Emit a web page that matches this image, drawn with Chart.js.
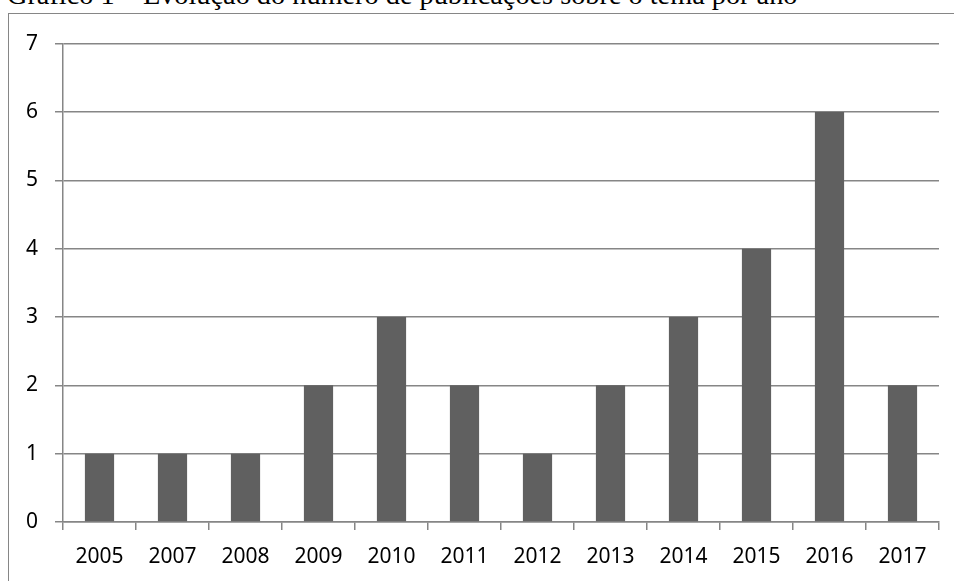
<!DOCTYPE html>
<html>
<head>
<meta charset="utf-8">
<script src="https://cdn.jsdelivr.net/npm/chart.js@4/dist/chart.umd.min.js"></script>
<style>
  body { margin: 0; background: #fff; width: 954px; height: 581px; overflow: hidden; position: relative; }
  #title { position: absolute; left: 7px; top: -19px; font: 28.3px "Liberation Serif", "Times New Roman", serif; line-height: 1; white-space: nowrap; color: #000; }
  #box { position: absolute; left: 8px; top: 13px; width: 946px; height: 568px; border-left: 1px solid #868686; border-top: 1px solid #868686; }
  #chart { display: block; }
</style>
</head>
<body>
<div id="title">Gráfico 1 – Evolução do número de publicações sobre o tema por ano</div>
<div id="box"><canvas id="chart" width="945" height="567"></canvas></div>
<script>
var years = ["2005", "2007", "2008", "2009", "2010", "2011", "2012", "2013", "2014", "2015", "2016", "2017"];
var publicacoes = [1, 1, 1, 2, 3, 2, 1, 2, 3, 4, 6, 2];
var yMax = 7;

var gridColor = "#868686";
var tickFont = { family: "'Noto Sans', 'Open Sans', sans-serif", size: 21 };

new Chart("chart", {
    type: "bar",
    data: {
        labels: years,
        datasets: [{
            data: publicacoes,
            backgroundColor: "#606060",
            barPercentage: 0.4,
            categoryPercentage: 1
        }]
    },
    options: {
        responsive: false,
        animation: false,
        layout: { padding: { top: 29, right: 15, left: 0, bottom: 0 } },
        plugins: { legend: { display: false }, tooltip: { enabled: false } },
        scales: {
            x: {
                grid: { drawOnChartArea: false, drawTicks: true, tickLength: 8, color: gridColor, lineWidth: 1.5 },
                border: { color: gridColor, width: 1.5 },
                ticks: { color: "#000", font: tickFont, padding: 14, maxRotation: 0 },
                afterFit: function (scale) { scale.height = 59; }
            },
            y: {
                min: 0,
                max: yMax,
                grid: { color: gridColor, lineWidth: 1.5, tickLength: 8 },
                border: { color: gridColor, width: 1.5 },
                ticks: { stepSize: 1, color: "#000", font: tickFont, padding: 17 },
                afterFit: function (scale) { scale.width = 54; }
            }
        }
    }
});
</script>
</body>
</html>
